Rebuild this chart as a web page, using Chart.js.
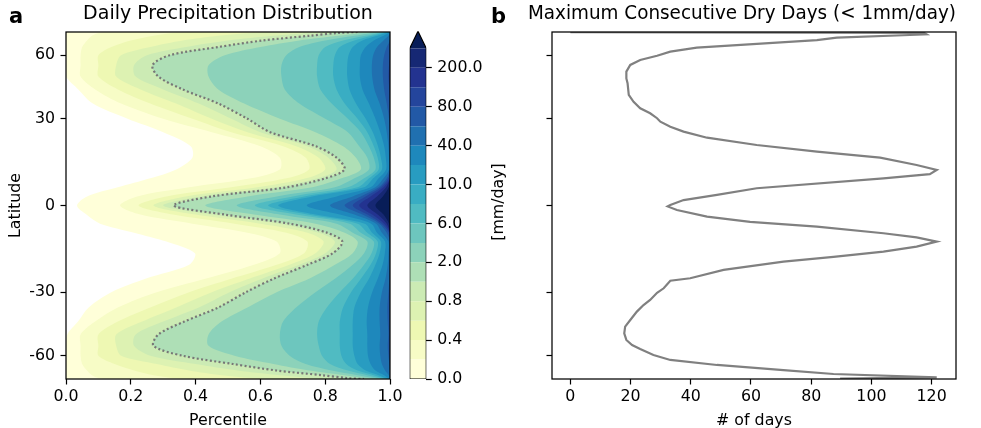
<!DOCTYPE html>
<html>
<head>
<meta charset="utf-8">
<script src="https://cdn.jsdelivr.net/npm/chart.js@4.4.1/dist/chart.umd.min.js"></script>
<style>
  html, body { margin: 0; padding: 0; background: #fff; }
  body { width: 981px; height: 428px; position: relative; overflow: hidden; font-family: 'DejaVu Sans', sans-serif; color: #000; }
  canvas { position: absolute; top: 0; }
  .tag { position: absolute; font-weight: bold; font-size: 21px; line-height: 21px; }
  #cbLabel { position: absolute; left: 447.5px; top: 192px; width: 100px; height: 20px; line-height: 20px;
             text-align: center; font-size: 15.8px; transform: rotate(-90deg); }
</style>
</head>
<body>
<canvas id="pdfChart" width="410" height="428" style="left:0"></canvas>
<canvas id="cbarChart" width="90" height="428" style="left:400px"></canvas>
<canvas id="cddChart" width="452" height="428" style="left:528px"></canvas>
<div class="tag" style="left:9px;top:5.5px">a</div>
<div class="tag" style="left:491px;top:5.5px">b</div>
<div id="cbLabel">[mm/day]</div>

<script>
/* ====== DATA ====== */

// latitude rows of panel a (deg, north to south)
const lats = [90, 84, 78, 72, 66, 60, 54, 48, 42, 36, 30, 25, 20, 16, 12, 9, 6, 3, 0,
  -3, -6, -9, -12, -16, -20, -25, -30, -36, -42, -48, -54, -60, -66, -72, -78, -84, -90];

// percentile where each contour level is reached, per latitude row
const edge0 = [0, 0, 0, 0, 0, 0, 0, 0, 0.038, 0.083, 0.19, 0.30, 0.385, 0.39, 0.34, 0.26, 0.16, 0.065, 0.034,
  0.063, 0.105, 0.21, 0.31, 0.398, 0.38, 0.245, 0.14, 0.07, 0.037, 0.004, 0, 0, 0, 0, 0, 0, 0];
const edge0_2 = [0.12, 0.10, 0.08, 0.065, 0.05, 0.045, 0.045, 0.045, 0.09, 0.17, 0.30, 0.45, 0.60, 0.66, 0.66, 0.57, 0.38, 0.22, 0.167,
  0.23, 0.39, 0.56, 0.65, 0.66, 0.58, 0.43, 0.28, 0.16, 0.09, 0.045, 0.045, 0.045, 0.05, 0.065, 0.08, 0.10, 0.12];
const edge0_4 = [0.38, 0.33, 0.27, 0.20, 0.14, 0.10, 0.10, 0.10, 0.16, 0.26, 0.39, 0.51, 0.67, 0.74, 0.75, 0.68, 0.51, 0.31, 0.224,
  0.33, 0.52, 0.68, 0.745, 0.735, 0.65, 0.51, 0.38, 0.26, 0.16, 0.10, 0.10, 0.10, 0.15, 0.21, 0.27, 0.33, 0.38];
const edge0_6 = [0.62, 0.57, 0.47, 0.36, 0.26, 0.17, 0.155, 0.155, 0.23, 0.34, 0.45, 0.56, 0.71, 0.78, 0.80, 0.74, 0.59, 0.37, 0.27,
  0.40, 0.60, 0.745, 0.795, 0.77, 0.69, 0.565, 0.45, 0.34, 0.235, 0.155, 0.155, 0.17, 0.28, 0.38, 0.48, 0.57, 0.62];
const edge0_8 = [0.80, 0.75, 0.64, 0.50, 0.37, 0.25, 0.21, 0.215, 0.30, 0.41, 0.51, 0.60, 0.745, 0.81, 0.835, 0.775, 0.645, 0.415, 0.30,
  0.45, 0.655, 0.78, 0.83, 0.80, 0.72, 0.605, 0.505, 0.41, 0.30, 0.215, 0.21, 0.26, 0.40, 0.53, 0.66, 0.76, 0.81];
const edge1 = [0.90, 0.84, 0.75, 0.607, 0.47, 0.32, 0.267, 0.285, 0.36, 0.47, 0.56, 0.63, 0.77, 0.835, 0.86, 0.80, 0.68, 0.45, 0.332,
  0.49, 0.69, 0.805, 0.853, 0.823, 0.745, 0.64, 0.555, 0.47, 0.365, 0.285, 0.27, 0.36, 0.515, 0.65, 0.79, 0.867, 0.92];
const edge2 = [0.95, 0.91, 0.84, 0.72, 0.60, 0.49, 0.44, 0.44, 0.47, 0.55, 0.66, 0.77, 0.855, 0.895, 0.91, 0.85, 0.76, 0.56, 0.43,
  0.58, 0.77, 0.86, 0.90, 0.885, 0.83, 0.75, 0.65, 0.56, 0.48, 0.44, 0.44, 0.52, 0.64, 0.75, 0.86, 0.92, 0.96];
const edge4 = [0.975, 0.945, 0.89, 0.80, 0.72, 0.68, 0.665, 0.665, 0.675, 0.72, 0.80, 0.87, 0.905, 0.93, 0.935, 0.89, 0.83, 0.65, 0.527,
  0.66, 0.835, 0.885, 0.93, 0.92, 0.885, 0.83, 0.77, 0.71, 0.67, 0.66, 0.665, 0.69, 0.74, 0.82, 0.90, 0.95, 0.98];
const edge6 = [0.985, 0.965, 0.925, 0.855, 0.80, 0.78, 0.775, 0.775, 0.785, 0.82, 0.87, 0.91, 0.935, 0.95, 0.955, 0.92, 0.87, 0.70, 0.583,
  0.71, 0.875, 0.91, 0.95, 0.943, 0.92, 0.885, 0.845, 0.805, 0.78, 0.775, 0.78, 0.79, 0.815, 0.87, 0.93, 0.968, 0.988];
const edge8 = [0.99, 0.975, 0.945, 0.89, 0.845, 0.83, 0.825, 0.825, 0.835, 0.86, 0.90, 0.93, 0.95, 0.962, 0.965, 0.935, 0.90, 0.735, 0.624,
  0.745, 0.90, 0.93, 0.962, 0.957, 0.94, 0.91, 0.88, 0.855, 0.845, 0.845, 0.845, 0.85, 0.865, 0.90, 0.95, 0.978, 0.993];
const edge10 = [0.995, 0.985, 0.96, 0.915, 0.885, 0.872, 0.868, 0.868, 0.875, 0.895, 0.925, 0.947, 0.963, 0.972, 0.975, 0.948, 0.92, 0.76, 0.655,
  0.77, 0.922, 0.945, 0.972, 0.968, 0.955, 0.935, 0.91, 0.89, 0.885, 0.885, 0.885, 0.89, 0.90, 0.925, 0.965, 0.986, 0.997];
const edge20 = [1, 0.995, 0.98, 0.95, 0.925, 0.91, 0.907, 0.907, 0.915, 0.935, 0.955, 0.97, 0.982, 0.987, 0.988, 0.965, 0.94, 0.835, 0.743,
  0.845, 0.942, 0.96, 0.985, 0.984, 0.977, 0.962, 0.945, 0.932, 0.928, 0.93, 0.93, 0.932, 0.94, 0.955, 0.982, 0.995, 1];
const edge40 = [1, 1, 0.995, 0.98, 0.96, 0.948, 0.944, 0.945, 0.952, 0.968, 0.982, 0.99, 0.995, 0.997, 0.997, 0.98, 0.955, 0.885, 0.815,
  0.89, 0.957, 0.975, 0.995, 0.995, 0.993, 0.986, 0.975, 0.968, 0.968, 0.97, 0.968, 0.97, 0.975, 0.985, 0.996, 1, 1];
const edge60 = [1, 1, 1, 1, 0.99, 0.982, 0.978, 0.978, 0.982, 0.99, 0.997, 1, 1, 1, 1, 0.99, 0.965, 0.91, 0.86,
  0.915, 0.967, 0.99, 1, 1, 1, 0.998, 0.995, 0.992, 0.993, 0.995, 0.993, 0.995, 0.998, 1, 1, 1, 1];
const edge80 = [1, 1, 1, 1, 1, 1, 0.997, 0.995, 0.998, 1, 1, 1, 1, 1, 1, 0.995, 0.972, 0.925, 0.885,
  0.93, 0.974, 0.997, 1, 1, 1, 1, 1, 1, 1, 1, 1, 1, 1, 1, 1, 1, 1];
const edge100 = [1, 1, 1, 1, 1, 1, 1, 1, 1, 1, 1, 1, 1, 1, 1, 1, 0.98, 0.94, 0.905,
  0.945, 0.982, 1, 1, 1, 1, 1, 1, 1, 1, 1, 1, 1, 1, 1, 1, 1, 1];
const edge200 = [1, 1, 1, 1, 1, 1, 1, 1, 1, 1, 1, 1, 1, 1, 1, 1, 0.988, 0.96, 0.93,
  0.962, 0.99, 1, 1, 1, 1, 1, 1, 1, 1, 1, 1, 1, 1, 1, 1, 1, 1];
const edge400 = [1, 1, 1, 1, 1, 1, 1, 1, 1, 1, 1, 1, 1, 1, 1, 1, 0.996, 0.978, 0.955,
  0.98, 0.997, 1, 1, 1, 1, 1, 1, 1, 1, 1, 1, 1, 1, 1, 1, 1, 1];

// contour levels (mm/day) and the labelled ones
const levels = [0, 0.2, 0.4, 0.6, 0.8, 1, 2, 4, 6, 8, 10, 20, 40, 60, 80, 100, 200, 400];
const cbarTicks = [0, 0.4, 0.8, 2, 6, 10, 40, 80, 200];
const pctTicks = [0, 0.2, 0.4, 0.6, 0.8, 1];
const latTicks = [-60, -30, 0, 30, 60];

// panel b: maximum consecutive dry days per latitude
const dryLat = [88, 84, 80.6, 79.3, 75.3, 72.5, 65.5, 62.5, 59.7, 57, 54.1, 50.5, 47.1, 44.8, 39.6, 36.7, 34.1, 32.1,
  30.2, 28.9, 27, 25.2, 23, 20.4, 18.1, 16, 13.5, 11.8, 10.4, 9, 5.7, 3.5, 1.8, 0.2, -0.3, -1.5, -3.7, -5.4, -7,
  -9.2, -10.6, -12, -13.7, -15.4, -17.2, -18.9, -21.8, -24.8, -25.7, -28.5, -30.2, -33, -35, -37.7, -41.3, -44.3,
  -47.5, -50.8, -53.5, -55.8, -59.5, -62.9, -66.8, -71.5, -76.2, -82, -86.5];
const dryDays = [0, 117.5, 118.3, 112.8, 88.5, 81.9, 42.0, 33.2, 28.8, 23.2, 19.9, 18.6, 18.6, 19.0, 19.4, 21.0, 23.2, 26.5,
  28.8, 29.9, 33.2, 37.6, 45.4, 61.9, 81.9, 102.9, 115, 121.7, 119.4, 104, 61.9, 48.7, 37.6, 33.2, 32.3, 35.4, 45.4, 59.7, 81.9,
  104, 115, 121.7, 115, 104, 87.4, 70.8, 50.9, 39.8, 33.2, 31.0, 28.8, 26.5, 24.3, 22.1, 19.9, 18.2,
  17.9, 18.6, 20.5, 23.2, 27.6, 33.2, 48.7, 70.8, 87.4, 121.7, 89.6];

/* ====== STYLE ====== */

const bandColors = ['#ffffd9', '#f7fcc6', '#eef8b3', '#ddf2b2', '#ccebb4', '#aedfb6', '#8cd2ba', '#6dc6be', '#50bbc2',
  '#39adc3', '#289cc1', '#1e88bc', '#2070b0', '#2259a6', '#24459c', '#233390', '#162874', '#081d58'];
const TICK = 15.8;

Chart.defaults.font.family = "'DejaVu Sans', sans-serif";
Chart.defaults.font.size = TICK;
Chart.defaults.color = '#000';

const sinLat = d => Math.sin(d * Math.PI / 180);
const tickGrid = { display: true, drawOnChartArea: false, drawTicks: true, tickLength: 5.5, tickWidth: 1.2, tickColor: '#000' };

// black box around the plot area
const frame = {
  id: 'frame',
  afterDatasetsDraw(chart) {
    const { ctx, chartArea: a } = chart;
    ctx.save();
    ctx.strokeStyle = '#000';
    ctx.lineWidth = 1.25;
    ctx.strokeRect(a.left, a.top, a.right - a.left, a.bottom - a.top);
    ctx.restore();
  }
};

/* ====== PANEL A: filled contours ====== */

const edges = [edge0, edge0_2, edge0_4, edge0_6, edge0_8, edge1, edge2, edge4, edge6, edge8,
  edge10, edge20, edge40, edge60, edge80, edge100, edge200, edge400];
const toPts = arr => arr.map((p, i) => ({ x: p, y: sinLat(lats[i]) }));

// painter's order: dataset 0 ends up on top, each fills from the left edge
const pdfSets = edges.map((e, k) => ({
  data: toPts(e),
  fill: { value: 0 },
  backgroundColor: k === 0 ? '#ffffff' : bandColors[k - 1]
}));
// everything above the top level (100th percentile edge), painted first
pdfSets.push({ data: lats.map(l => ({ x: 1, y: sinLat(l) })), fill: { value: 0 }, backgroundColor: bandColors[17] });
// 1 mm/day contour, dotted
pdfSets.push({
  data: toPts(edge1), fill: false, order: -1,
  borderColor: '#777777', borderWidth: 2.2, borderDash: [2, 2.4]
});

new Chart(document.getElementById('pdfChart'), {
  type: 'line',
  data: { datasets: pdfSets },
  options: {
    indexAxis: 'y',
    responsive: false, animation: false, events: [],
    layout: { padding: { left: 0, right: 20, top: 0, bottom: 0 } },
    elements: { point: { radius: 0 }, line: { borderWidth: 0, tension: 0.3 } },
    plugins: {
      legend: { display: false }, tooltip: { enabled: false },
      title: { display: true, text: 'Daily Precipitation Distribution', fullSize: false,
               font: { size: 19, weight: 'normal' }, padding: { top: 2.6, bottom: 6.6 } }
    },
    scales: {
      x: {
        type: 'linear', min: 0, max: 1,
        afterBuildTicks: s => { s.ticks = pctTicks.map(v => ({ value: v })); },
        afterFit: s => { s.height = 49; },
        ticks: { callback: v => v.toFixed(1), padding: 3.3, autoSkip: false, maxRotation: 0 },
        grid: tickGrid, border: { display: false },
        title: { display: true, text: 'Percentile', padding: { top: 0, bottom: -2 } }
      },
      y: {
        type: 'linear', min: -1, max: 1,
        afterBuildTicks: s => { s.ticks = latTicks.map(v => ({ value: sinLat(v) })); },
        afterFit: s => { s.width = 66; },
        ticks: { callback: (v, i) => String(latTicks[i]), padding: 5.5, autoSkip: false },
        grid: tickGrid, border: { display: false },
        title: { display: true, text: 'Latitude', padding: { top: 6, bottom: 0 } }
      }
    }
  },
  plugins: [frame]
});

/* ====== COLORBAR ====== */

const ARROW = 17.88;
const cbarSets = levels.slice(0, -1).map((lv, i) => ({
  data: [{ x: 0, y: i + 1 }, { x: 1, y: i + 1 }],
  fill: { value: i }, backgroundColor: bandColors[i]
}));
cbarSets.push({
  data: [{ x: 0, y: 17 }, { x: 0.5, y: ARROW }, { x: 1, y: 17 }],
  fill: { value: 17 }, backgroundColor: bandColors[17]
});
cbarSets.push({
  data: [{ x: 0, y: 0 }, { x: 1, y: 0 }, { x: 1, y: 17 }, { x: 0.5, y: ARROW }, { x: 0, y: 17 }, { x: 0, y: 0 }],
  fill: false, borderColor: '#000', borderWidth: 1.2, order: -1
});

new Chart(document.getElementById('cbarChart'), {
  type: 'line',
  data: { datasets: cbarSets },
  options: {
    responsive: false, animation: false, events: [],
    layout: { padding: { left: 9.7, right: 0, top: 31.3, bottom: 49 } },
    elements: { point: { radius: 0 }, line: { borderWidth: 0, tension: 0 } },
    plugins: { legend: { display: false }, tooltip: { enabled: false } },
    scales: {
      x: { type: 'linear', min: 0, max: 1, display: false },
      y: {
        type: 'linear', position: 'right', min: 0, max: ARROW,
        afterBuildTicks: s => { s.ticks = cbarTicks.map(v => ({ value: levels.indexOf(v) })); },
        afterFit: s => { s.width = 63.7; },
        ticks: { callback: (v, i) => cbarTicks[i].toFixed(1), padding: 5.5, autoSkip: false },
        grid: tickGrid, border: { display: false }
      }
    }
  }
});

/* ====== PANEL B: consecutive dry days ====== */

new Chart(document.getElementById('cddChart'), {
  type: 'scatter',
  data: {
    datasets: [{
      data: dryDays.map((d, i) => ({ x: d, y: sinLat(dryLat[i]) })),
      showLine: true, borderColor: '#808080', borderWidth: 2.2, pointRadius: 0, tension: 0
    }]
  },
  options: {
    responsive: false, animation: false, events: [],
    layout: { padding: { left: 0, right: 24, top: 0, bottom: 0 } },
    plugins: {
      legend: { display: false }, tooltip: { enabled: false },
      title: { display: true, text: 'Maximum Consecutive Dry Days (< 1mm/day)',
               font: { size: 19, weight: 'normal' }, padding: { top: 2.6, bottom: 6.6 } }
    },
    scales: {
      x: {
        type: 'linear', min: -6.1, max: 128.1,
        afterBuildTicks: s => { s.ticks = [0, 20, 40, 60, 80, 100, 120].map(v => ({ value: v })); },
        afterFit: s => { s.height = 49; },
        ticks: { padding: 3.3, autoSkip: false, maxRotation: 0 },
        grid: tickGrid, border: { display: false },
        title: { display: true, text: '# of days', padding: { top: 0, bottom: -2 } }
      },
      y: {
        type: 'linear', min: -1, max: 1,
        afterBuildTicks: s => { s.ticks = latTicks.map(v => ({ value: sinLat(v) })); },
        afterFit: s => { s.width = 24; },
        ticks: { callback: () => '', autoSkip: false },
        grid: tickGrid, border: { display: false }
      }
    }
  },
  plugins: [frame]
});
</script>
</body>
</html>
